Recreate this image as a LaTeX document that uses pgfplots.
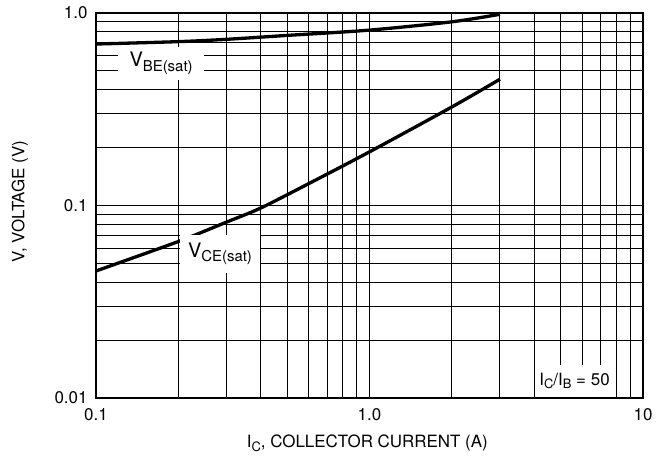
\documentclass[border=0pt]{standalone}
\usepackage{fontspec}
\setmainfont{TeX Gyre Heros}
\usepackage{pgfplots}
\pgfplotsset{compat=1.18}
\newcommand{\lbl}[2]{{\fontsize{20}{22}\selectfont #1\raisebox{-4.5bp}{\fontsize{15}{16}\selectfont #2}}}
\begin{document}
\begin{tikzpicture}
\path[use as bounding box] (-96bp,-74bp) rectangle (567bp,398bp);
\begin{axis}[
  scale only axis, width=547bp, height=385bp,
  xmode=log, ymode=log,
  xmin=0.1, xmax=10, ymin=0.01, ymax=1,
  xtick={0.1,1,10}, xticklabels={0.1,1.0,10},
  ytick={0.01,0.1,1}, yticklabels={0.01,0.1,1.0},
  minor xtick={0.2,0.3,0.4,0.5,0.6,0.7,0.8,0.9,2,3,4,5,6,7,8,9},
  minor ytick={0.02,0.03,0.04,0.05,0.06,0.07,0.08,0.09,0.2,0.3,0.4,0.5,0.6,0.7,0.8,0.9},
  grid=both,
  major grid style={black, line width=1.2bp},
  minor grid style={black, line width=1bp},
  axis line style={line width=2.4bp},
  tick style={draw=none},
  tick label style={font=\fontsize{17}{20}\selectfont},
  xticklabel style={yshift=-7bp},
  yticklabel style={xshift=-5bp},
  label style={font=\fontsize{17}{20}\selectfont},
  xlabel={I\raisebox{-3.5bp}{\fontsize{13}{14}\selectfont C}, COLLECTOR CURRENT (A)},
  ylabel={V, VOLTAGE (V)},
  xlabel style={at={(axis description cs:0.496,-0.117)}, anchor=center},
  ylabel style={at={(axis description cs:-0.139,0.51)}, anchor=center},
]
\addplot[black, line width=3.3bp, smooth] coordinates {
(0.1,0.69) (0.2,0.71) (0.3,0.73) (0.5,0.765) (1,0.815) (2,0.9) (3,0.985)};
\addplot[black, line width=3.3bp, smooth] coordinates {
(0.1,0.0457) (0.2,0.065) (0.3,0.082) (0.4,0.097) (0.6,0.13) (1,0.19) (2,0.325) (3,0.453)};
\node[fill=white, inner sep=0pt, minimum width=86bp, minimum height=33bp] at (axis cs:0.173,0.547) {\lbl{V}{BE(sat)}};
\node[fill=white, inner sep=0pt, minimum width=80bp, minimum height=38bp] at (axis cs:0.284,0.056) {\lbl{V}{CE(sat)}};
\node[fill=white, inner sep=0pt, minimum width=75bp, minimum height=32bp, font=\fontsize{17}{20}\selectfont] at (axis cs:5.62,0.0123) {I\raisebox{-3.5bp}{\fontsize{13}{14}\selectfont C}/I\raisebox{-3.5bp}{\fontsize{13}{14}\selectfont B} = 50};
\end{axis}
\end{tikzpicture}
\end{document}
